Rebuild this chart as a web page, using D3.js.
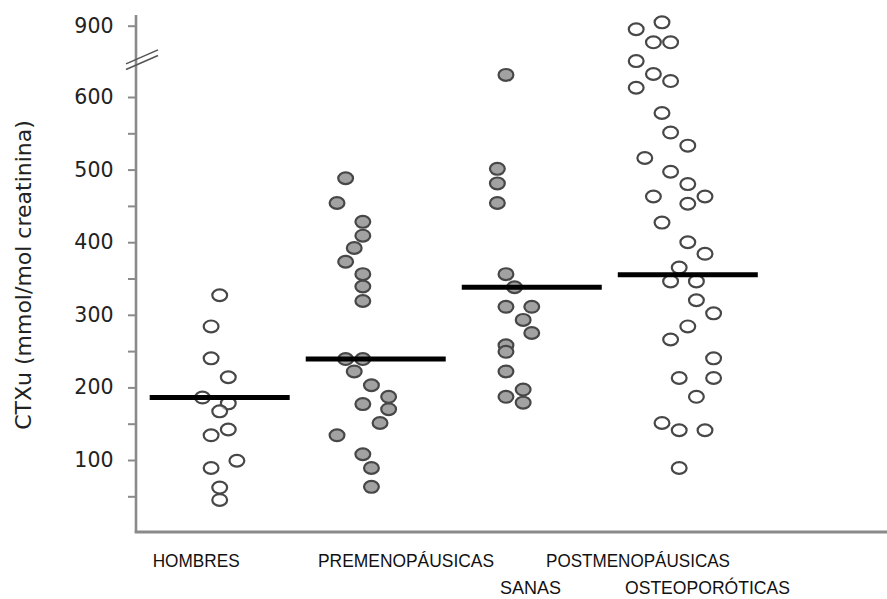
<!DOCTYPE html>
<html>
<head>
<meta charset="utf-8">
<script src="https://cdn.jsdelivr.net/npm/d3@7"></script>
<style>
  html, body { margin: 0; padding: 0; background: #fff; }
  svg { display: block; }
</style>
</head>
<body>
<svg id="chart" width="887" height="599"></svg>
<script>
// ---------------- DATA ----------------
const groups = ["HOMBRES", "PREMENOPÁUSICAS", "POSTMENOPÁUSICAS SANAS", "POSTMENOPÁUSICAS OSTEOPORÓTICAS"];

// CTXu values (mmol/mol creatinina) per group, with horizontal jitter slot of each point
const hombresValues = [327, 284, 240, 214, 186, 178, 167, 142, 134, 99, 89, 62, 45];
const hombresSlots  = [0, -1, -1, 1, -2, 1, 0, 1, -1, 2, -1, 0, 0];

const premenValues = [488, 454, 428, 409, 392, 373, 356, 339, 319, 239, 239, 222, 203, 187, 177, 170, 151, 134, 108, 89, 63];
const premenSlots  = [-3.5, -4.5, -1.5, -1.5, -2.5, -3.5, -1.5, -1.5, -1.5, -3.5, -1.5, -2.5, -0.5, 1.5, -1.5, 1.5, 0.5, -4.5, -1.5, -0.5, -0.5];

const sanasValues = [693, 501, 481, 454, 356, 338, 311, 311, 293, 275, 258, 249, 222, 197, 187, 179];
const sanasSlots  = [-3, -4, -4, -4, -3, -2, -3, 0, -1, 0, -3, -3, -3, -1, -3, -1];

const osteoValues = [885, 914, 830, 830, 751, 697, 667, 639, 578, 551, 533, 516, 497, 480, 463, 463, 453, 427, 400, 384, 365, 346, 346, 320, 302, 284, 266, 240, 213, 213, 187, 151, 141, 141, 89];
const osteoSlots  = [-6, -3, -4, -2, -6, -4, -2, -6, -3, -2, 0, -5, -2, 0, 2, -4, 0, -3, 0, 2, -1, -2, 1, 1, 3, 0, -2, 3, -1, 3, 1, -3, -1, 2, -1];

const medians = [186, 239, 338, 355];
const filled  = [false, true, true, false];

const yTickValues = [50, 100, 150, 200, 250, 300, 350, 400, 450, 500, 550, 600, 900];
const yLabelValues = [100, 200, 300, 400, 500, 600, 900];
const yTitle = "CTXu (mmol/mol creatinina)";

const xLabelLines = [
  { text: "HOMBRES", row: 0 },
  { text: "PREMENOPÁUSICAS", row: 0 },
  { text: "POSTMENOPÁUSICAS", row: 0 },
  { text: "SANAS", row: 1 },
  { text: "OSTEOPORÓTICAS", row: 1 }
];

// ---------------- LAYOUT ----------------
const W = 887, H = 599;
const axisX = 136, axisBottom = 532;
const svg = d3.select("#chart");

const y = d3.scaleLinear().domain([0, 600, 945]).range([532.6, 97, 15]);
const x = d3.scalePoint().domain(groups).range([219.7, 687.8]);
const slot = d3.scaleLinear().domain([0, 1]).range([0, 8.6]);

const sets = [
  { values: hombresValues, slots: hombresSlots },
  { values: premenValues, slots: premenSlots },
  { values: sanasValues, slots: sanasSlots },
  { values: osteoValues, slots: osteoSlots }
];

// y axis
const yAxis = d3.axisLeft(y)
  .tickValues(yTickValues)
  .tickSize(8)
  .tickPadding(14.5)
  .tickFormat(d => yLabelValues.includes(d) ? d : "");
const gy = svg.append("g").attr("transform", `translate(${axisX},0)`).call(yAxis);
gy.select(".domain").attr("stroke", "#8a8a8a").attr("stroke-width", 2.6).attr("d", `M0,${y(0)}V${y(945)}`);
gy.selectAll(".tick line").attr("stroke", "#8a8a8a").attr("stroke-width", 2);
gy.selectAll(".tick text")
  .attr("fill", "#222")
  .style("font-family", "'DejaVu Sans', sans-serif")
  .style("font-size", "20.5px");

// axis break marks
const breakY = y(757);
[-2.8, 2.8].forEach(off => {
  svg.append("line")
    .attr("x1", axisX - 10).attr("y1", breakY + off + 7)
    .attr("x2", axisX + 22).attr("y2", breakY + off - 7)
    .attr("stroke", "#555").attr("stroke-width", 1.6);
});

// x axis line
svg.append("line")
  .attr("x1", axisX - 1.3).attr("x2", W)
  .attr("y1", axisBottom).attr("y2", axisBottom)
  .attr("stroke", "#8a8a8a").attr("stroke-width", 3);

// y title
svg.append("text")
  .attr("transform", `translate(31,${275}) rotate(-90)`)
  .attr("text-anchor", "middle")
  .attr("fill", "#222")
  .style("font-family", "'DejaVu Sans', sans-serif")
  .style("font-size", "22px")
  .text(yTitle);

// points
sets.forEach((s, gi) => {
  const cx0 = x(groups[gi]);
  svg.append("g").selectAll("ellipse")
    .data(s.values.map((v, i) => ({ v, s: s.slots[i] })))
    .join("ellipse")
    .attr("cx", d => cx0 + slot(d.s))
    .attr("cy", d => y(d.v))
    .attr("rx", 7.4)
    .attr("ry", 5.9)
    .attr("fill", filled[gi] ? "#a2a2a2" : "#fff")
    .attr("fill-opacity", filled[gi] ? 1 : 0.6)
    .attr("stroke", "#474747")
    .attr("stroke-width", 2.2);
});

// median lines
svg.append("g").selectAll("line")
  .data(medians)
  .join("line")
  .attr("x1", (d, i) => x(groups[i]) - 70)
  .attr("x2", (d, i) => x(groups[i]) + 70)
  .attr("y1", d => y(d))
  .attr("y2", d => y(d))
  .attr("stroke", "#000")
  .attr("stroke-width", 5);

// x category labels
const labelStart = [152.7, 318, 546, 500, 625];
const labelWidth = [87, 176, 184, 61, 165];
const rowBaseline = [567, 594];
svg.append("g").selectAll("text")
  .data(xLabelLines)
  .join("text")
  .attr("x", (d, i) => labelStart[i])
  .attr("y", d => rowBaseline[d.row])
  .attr("textLength", (d, i) => labelWidth[i])
  .attr("lengthAdjust", "spacingAndGlyphs")
  .attr("fill", "#111")
  .style("font-family", "'Liberation Sans Narrow', 'Liberation Sans', sans-serif")
  .style("font-size", "19px")
  .text(d => d.text);
</script>
</body>
</html>
